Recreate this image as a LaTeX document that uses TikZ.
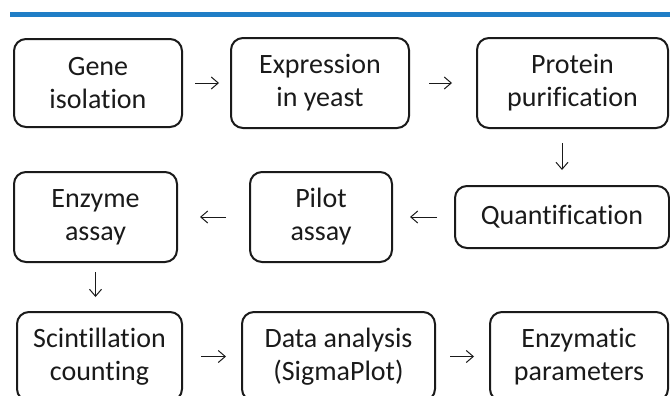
\documentclass[tikz,border=0pt]{standalone}
\usepackage{fontspec}
\setmainfont{Carlito}[Ligatures=NoCommon]
\usetikzlibrary{arrows.meta}
\definecolor{barblue}{RGB}{32,126,198}
\definecolor{inkgray}{RGB}{26,26,26}

\begin{document}
\begin{tikzpicture}[x=0.5pt,y=-0.5pt,
  stepbox/.style={draw=inkgray, line width=1pt, rounded corners=6pt, align=center,
    text=inkgray, inner sep=0pt, font=\fontsize{14}{16.5}\selectfont},
  flow/.style={draw=inkgray, line width=0.5pt, -{Straight Barb[length=3.5pt,width=6pt]}}]
\useasboundingbox (0,0) rectangle (670,396);
\draw[barblue, line width=2.5pt] (10,14.5) -- (670,14.5);

\node[stepbox, minimum width=84pt, minimum height=44pt] (gene) at (98,83) {Gene\\isolation};
\node[stepbox, minimum width=89pt, minimum height=45pt] (expr) at (320,83) {Expression\\in yeast};
\node[stepbox, minimum width=95.5pt, minimum height=45pt] (prot) at (572.5,83) {Protein\\purification};

\node[stepbox, minimum width=81.5pt, minimum height=45pt] (enz) at (95.5,217) {Enzyme\\assay};
\node[stepbox, minimum width=71pt, minimum height=45pt] (pilot) at (321,217) {Pilot\\assay};
\node[stepbox, minimum width=107pt, minimum height=31pt] (quant) at (562,217) {Quantification};

\node[stepbox, minimum width=82.5pt, minimum height=44.5pt] (scint) at (99.5,356.5) {Scintillation\\counting};
\node[stepbox, minimum width=96.5pt, minimum height=44.5pt] (data) at (338.5,356.5) {Data analysis\\(SigmaPlot)};
\node[stepbox, minimum width=89pt, minimum height=44.5pt] (enzpar) at (579,356.5) {Enzymatic\\parameters};

\path[flow, shorten <=6pt, shorten >=5.5pt] (gene) -- (expr);
\path[flow, shorten <=9.5pt, shorten >=12pt] (expr) -- (prot);
\path[flow, shorten <=7pt, shorten >=7.5pt] (prot.south -| quant.north) -- (quant.north);
\path[flow, shorten <=8.5pt, shorten >=8.5pt] (quant.west) -- (pilot.east);
\path[flow, shorten <=11.5pt, shorten >=11pt] (pilot.west) -- (enz.east);
\path[flow, shorten <=4.5pt, shorten >=7pt] (enz.south) -- (enz.south |- scint.north);
\path[flow, shorten <=9pt, shorten >=7.5pt] (scint) -- (data);
\path[flow, shorten <=7pt, shorten >=7.5pt] (data) -- (enzpar);
\end{tikzpicture}
\end{document}
